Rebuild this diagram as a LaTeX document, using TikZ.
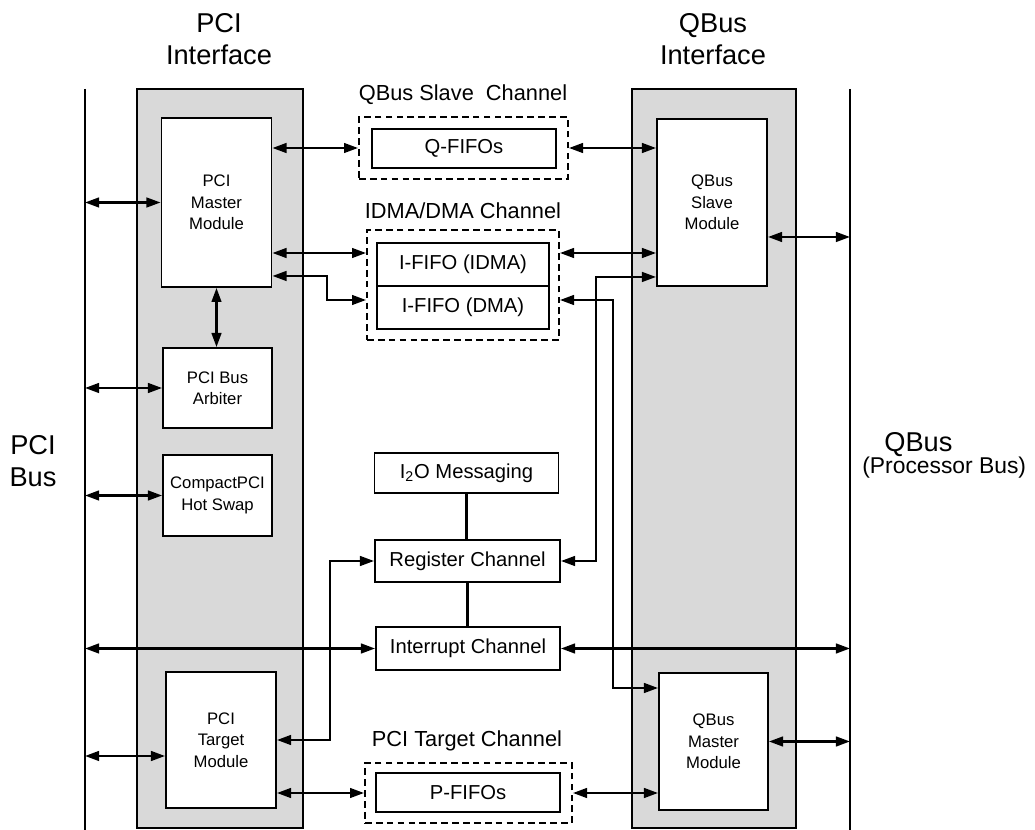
\documentclass[tikz,border=0pt]{standalone}
\usepackage{fontspec}
\setmainfont{Liberation Sans}
\usepackage{tikz}
\usetikzlibrary{arrows.meta, positioning, calc}
\definecolor{ifgray}{RGB}{217,217,217}

\begin{document}
\begin{tikzpicture}[x=0.02cm,y=-0.02cm,
    iface/.style={rectangle,draw,fill=ifgray,line width=1.1pt,minimum width=3.32cm,minimum height=14.78cm},
    module/.style={rectangle,draw,fill=white,line width=1.1pt,minimum width=2.2cm,align=center,font=\fontsize{9.5}{12.2}\selectfont},
    fifo/.style={rectangle,draw,fill=white,line width=1.1pt,minimum width=3.68cm,inner sep=0pt,font=\fontsize{11.5}{14}\selectfont},
    chanbox/.style={rectangle,draw,dash pattern=on 3.8pt off 2.4pt,line width=1.1pt},
    title/.style={font=\fontsize{12.4}{15}\selectfont},
    biglabel/.style={align=center,font=\fontsize{15.5}{18.6}\selectfont},
    link/.style={line width=1.3pt,{Triangle[length=8pt,width=5.5pt]}-{Triangle[length=8pt,width=5.5pt]}}
]
    \useasboundingbox (0,0) rectangle (1035,830);

    % Colonne interfacce
    \node[iface] (pciif) at (220,458.5) {};
    \node[iface,minimum width=3.28cm] (qbusif) at (714,458.5) {};
    \node[biglabel] (pciiflbl) at (219,39) {PCI\\Interface};
    \node[biglabel] (qbusiflbl) at (713,39) {QBus\\Interface};

    % Bus
    \coordinate (pcibus) at (85,89);
    \coordinate (pcibusend) at (85,830);
    \coordinate (qbus) at (850,89);
    \coordinate (qbusend) at (850,830);
    \draw[line width=1.2pt] (pcibus) -- (pcibusend);
    \draw[line width=1.2pt] (qbus) -- (qbusend);
    \node[biglabel] (pcibuslbl) at (33,461) {PCI\\Bus};
    \node[biglabel,anchor=west,inner sep=0pt] (qbuslbl) at (884,445) {QBus};
    \node[anchor=west,inner sep=0pt,font=\fontsize{13}{15}\selectfont] (procbus) at (862,468) {(Processor Bus)};

    % Moduli lato PCI
    \node[module,minimum height=3.38cm] (master) at (216.5,202.5) {PCI\\Master\\Module};
    \node[module,minimum width=2.18cm,minimum height=1.6cm] (arbiter) at (217.5,388) {PCI Bus\\Arbiter};
    \node[module,minimum width=2.18cm,minimum height=1.62cm] (hotswap) at (217.5,495.5) {CompactPCI\\Hot Swap};
    \node[module,minimum height=2.72cm] (target) at (221,740) {PCI\\Target\\Module};

    % Moduli lato QBus
    \node[module,minimum height=3.34cm] (slave) at (712,202.5) {QBus\\Slave\\Module};
    \node[module,minimum width=2.18cm,minimum height=2.74cm] (qmaster) at (713.5,741.5) {QBus\\Master\\Module};

    % Canali
    \node[title] (qslavelbl) at (463,95) {QBus Slave\ \ Channel};
    \node[chanbox,minimum width=4.18cm,minimum height=1.24cm] (qdash) at (463.5,148) {};
    \node[fifo,minimum height=0.78cm] (qfifo) at (464,148.5) {Q-FIFOs};
    \node[title] (dmalbl) at (463,211) {IDMA/DMA Channel};
    \node[chanbox,minimum width=3.84cm,minimum height=2.2cm] (dmadash) at (463,285) {};
    \node[fifo,minimum width=3.44cm,minimum height=0.86cm] (idma) at (463,264.5) {I-FIFO (IDMA)};
    \node[fifo,minimum width=3.44cm,minimum height=0.86cm] (dma) at (463,307.5) {I-FIFO (DMA)};
    \node[fifo,minimum height=0.8cm] (i2o) at (466.5,473) {I\textsubscript{2}O Messaging};
    \node[fifo,minimum width=3.7cm,minimum height=0.84cm] (register) at (467.5,561) {Register Channel};
    \node[fifo,minimum height=0.86cm] (interrupt) at (468,648.5) {Interrupt Channel};
    \node[title] (ptargetlbl) at (467,741) {PCI Target Channel};
    \node[chanbox,minimum width=4.14cm,minimum height=1.2cm] (pdash) at (468.5,793) {};
    \node[fifo,minimum height=0.78cm] (pfifo) at (468,792.5) {P-FIFOs};

    % Collegamenti PCI Bus
    \draw[link] (master.west -| pcibus) -- (master.west);
    \draw[link] (arbiter.west -| pcibus) -- (arbiter.west);
    \draw[link] (hotswap.west -| pcibus) -- (hotswap.west);
    \draw[link] ([yshift=-0.32cm]target.west -| pcibus) -- ([yshift=-0.32cm]target.west);
    \draw[link] (interrupt.west -| pcibus) -- (interrupt.west);

    % Collegamenti QBus
    \draw[link] (interrupt.east) -- (interrupt.east -| qbus);
    \draw[link] ([yshift=-0.69cm]slave.east) -- ([yshift=-0.69cm]slave.east -| qbus);
    \draw[link] (qmaster.east) -- (qmaster.east -| qbus);

    % Master e Arbiter
    \draw[link] (master.south) -- (master.south |- arbiter.north);

    % QBus Slave Channel
    \draw[link] (master.east |- qdash.west) -- (qdash.west);
    \draw[link] (qdash.east) -- (qdash.east -| slave.west);

    % IDMA/DMA Channel
    \draw[link] ([yshift=0.64cm]dmadash.west -| master.east) -- ([yshift=0.64cm]dmadash.west);
    \draw[link] ([yshift=0.64cm]dmadash.east) -- ([yshift=0.64cm]dmadash.east -| slave.west);
    \draw[link] ([yshift=-1.47cm]master.east) -| ([xshift=-0.78cm,yshift=-0.3cm]dmadash.west) -- ([yshift=-0.3cm]dmadash.west);
    \draw[link] ([yshift=-0.3cm]dmadash.east) -| ([xshift=-0.9cm,yshift=1.07cm]qmaster.west) -- ([yshift=1.07cm]qmaster.west);

    % Register Channel
    \draw[link] (register.east) -| ([xshift=-1.2cm,yshift=-1.49cm]slave.west) -- ([yshift=-1.49cm]slave.west);
    \draw[link] (target.east) -| ([xshift=-0.88cm]register.west) -- (register.west);
    \draw[line width=1.2pt] (i2o.south) -- (i2o.south |- register.north);
    \draw[line width=1.2pt] (register.south) -- (register.south |- interrupt.north);

    % PCI Target Channel
    \draw[link] (target.east |- pdash.west) -- (pdash.west);
    \draw[link] (pdash.east) -- (pdash.east -| qmaster.west);
\end{tikzpicture}
\end{document}
